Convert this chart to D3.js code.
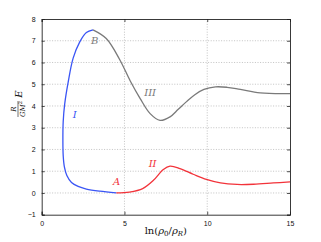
<!DOCTYPE html>
<html>
<head>
<meta charset="utf-8">
<script src="https://cdn.jsdelivr.net/npm/d3@7"></script>
<style>
  html, body { margin: 0; padding: 0; background: #fff; }
  svg { display: block; }
</style>
</head>
<body>
<div id="chart"></div>
<script>
// Branch data: [ln(rho0/rhoR), R/(GM^2) E]
const branchI   = [[4.5,0],[3.5,0.08],[2.7,0.18],[2.2,0.3],[1.8,0.48],[1.52,0.8],[1.37,1.2],[1.3,1.7],[1.28,2.4],[1.3,3.3],[1.39,4.1],[1.6,5.1],[1.9,6.2],[2.3,6.95],[2.7,7.38],[3.1,7.5]];
const branchIII = [[3.1,7.5],[3.9,7.1],[4.7,6.15],[5.35,5.15],[5.95,4.34],[6.55,3.65],[7.15,3.34],[7.75,3.5],[8.25,3.85],[8.75,4.2],[9.25,4.52],[9.8,4.76],[10.5,4.88],[11.2,4.86],[12.0,4.76],[13.2,4.6],[15,4.57]];
const branchII  = [[4.5,0],[5.3,0.04],[6.1,0.2],[6.75,0.58],[7.35,1.08],[7.75,1.23],[8.35,1.12],[9.15,0.86],[9.95,0.62],[10.8,0.46],[11.8,0.39],[12.8,0.4],[14,0.46],[15,0.51]];
const xTicks = [0, 5, 10, 15];
const yTicks = [-1, 0, 1, 2, 3, 4, 5, 6, 7, 8];

const W = 321, H = 242;
const m = { left: 41.7, right: 31, top: 19, bottom: 27.3 };

const svg = d3.select("#chart").append("svg").attr("width", W).attr("height", H);

const x = d3.scaleLinear().domain([0, 15]).range([m.left, W - m.right]);
const y = d3.scaleLinear().domain([-1, 8]).range([H - m.bottom, m.top]);

const tickFont = "'Liberation Sans', Arial, sans-serif";
const serif = "'DejaVu Serif', 'Liberation Serif', serif";

// grid
const grid = svg.append("g").attr("stroke", "#b4b4b4").attr("stroke-width", 0.8)
  .attr("stroke-dasharray", "1,1.6");
grid.selectAll("line.h").data(yTicks.slice(1, -1)).join("line")
  .attr("x1", x(0)).attr("x2", x(15)).attr("y1", d => y(d)).attr("y2", d => y(d));
grid.selectAll("line.v").data(xTicks.slice(1, -1)).join("line")
  .attr("y1", y(-1)).attr("y2", y(8)).attr("x1", d => x(d)).attr("x2", d => x(d));

// axes (ticks inside)
const xAxis = d3.axisBottom(x).tickValues(xTicks).tickSize(-3).tickPadding(6);
const xAxisTop = d3.axisTop(x).tickValues(xTicks).tickSize(-3).tickFormat("");
const yAxis = d3.axisLeft(y).tickValues(yTicks).tickSize(-3).tickPadding(6)
  .tickFormat(d => d < 0 ? "\u2212" + Math.abs(d) : d);
const yAxisR = d3.axisRight(y).tickValues(yTicks).tickSize(-3).tickFormat("");

function style(g) {
  g.select(".domain").attr("stroke", "#222").attr("stroke-width", 0.9);
  g.selectAll(".tick line").attr("stroke", "#222").attr("stroke-width", 0.8);
  g.selectAll("text").attr("font-family", tickFont).attr("font-size", 7).attr("fill", "#111");
}
svg.append("g").attr("transform", `translate(0,${y(-1)})`).call(xAxis).call(style);
svg.append("g").attr("transform", `translate(0,${y(8)})`).call(xAxisTop).call(style);
svg.append("g").attr("transform", `translate(${x(0)},0)`).call(yAxis).call(style);
svg.append("g").attr("transform", `translate(${x(15)},0)`).call(yAxisR).call(style);

// curves
const line = d3.line().x(d => x(d[0])).y(d => y(d[1])).curve(d3.curveCatmullRom.alpha(0.5));
const curves = [
  { data: branchIII, color: "#7a7a7a" },
  { data: branchII,  color: "#f2333a" },
  { data: branchI,   color: "#3a55f5" },
];
svg.append("g").selectAll("path").data(curves).join("path")
  .attr("d", d => line(d.data)).attr("fill", "none")
  .attr("stroke", d => d.color).attr("stroke-width", 1.3);

// labels
const labels = [
  { t: "B",   v: [3.2, 6.85],  c: "#7a7a7a" },
  { t: "III", v: [6.55, 4.45], c: "#7a7a7a" },
  { t: "I",   v: [2.0, 3.45],  c: "#3a55f5" },
  { t: "II",  v: [6.7, 1.18],  c: "#f2333a" },
  { t: "A",   v: [4.52, 0.35], c: "#f2333a" },
];
svg.append("g").selectAll("text").data(labels).join("text")
  .attr("x", d => x(d.v[0])).attr("y", d => y(d.v[1]))
  .attr("text-anchor", "middle")
  .attr("font-family", serif).attr("font-style", "italic").attr("font-size", 10)
  .attr("fill", d => d.c).text(d => d.t);

// x label
const xl = svg.append("text").attr("x", x(7.5)).attr("y", 234)
  .attr("text-anchor", "middle").attr("font-family", serif).attr("font-size", 10).attr("fill", "#111");
xl.append("tspan").text("ln(");
xl.append("tspan").attr("font-style", "italic").text("ρ");
xl.append("tspan").attr("font-size", 7).attr("dy", 2).text("0");
xl.append("tspan").attr("dy", -2).text("/");
xl.append("tspan").attr("font-style", "italic").text("ρ");
xl.append("tspan").attr("font-size", 7).attr("font-style", "italic").attr("dy", 2).text("R");
xl.append("tspan").attr("dy", -2).text(")");

// y label: R/(GM^2) E, rotated
const yl = svg.append("g").attr("transform", "translate(18,104) rotate(-90)")
  .attr("font-family", serif).attr("fill", "#111");
yl.append("text").attr("x", -5).attr("y", -2).attr("text-anchor", "middle")
  .attr("font-size", 7).attr("font-style", "italic").text("R");
yl.append("line").attr("x1", -13).attr("x2", 3).attr("y1", 0).attr("y2", 0)
  .attr("stroke", "#111").attr("stroke-width", 0.6);
const den = yl.append("text").attr("x", -5).attr("y", 7).attr("text-anchor", "middle")
  .attr("font-size", 7).attr("font-style", "italic");
den.append("tspan").text("GM");
den.append("tspan").attr("font-size", 5).attr("dy", -3).attr("font-style", "normal").text("2");
yl.append("text").attr("x", 10).attr("y", 3.5).attr("text-anchor", "middle")
  .attr("font-size", 10).attr("font-style", "italic").text("E");
</script>
</body>
</html>
